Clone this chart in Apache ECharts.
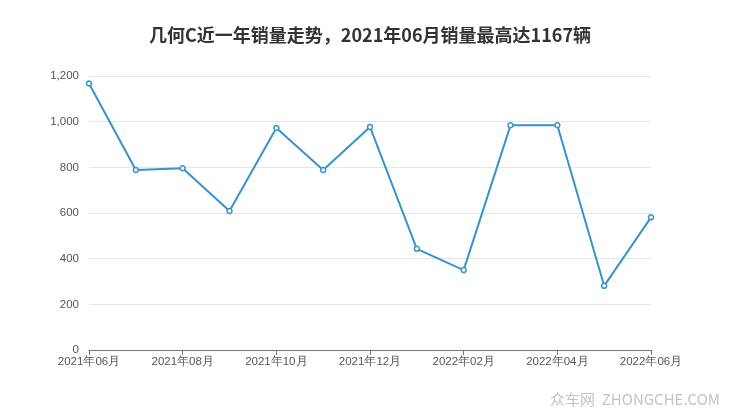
<!DOCTYPE html>
<html><head><meta charset="utf-8">
<script src="https://cdn.jsdelivr.net/npm/echarts@6/dist/echarts.min.js"></script>
<style>html,body{margin:0;padding:0;background:#fff}#c{width:740px;height:417px}</style>
</head><body><div id="c"></div>
<script>
var categories = ['2021年06月','2021年07月','2021年08月','2021年09月','2021年10月','2021年11月','2021年12月','2022年01月','2022年02月','2022年03月','2022年04月','2022年05月','2022年06月'];
var sales = [1167, 788, 796, 609, 972, 788, 977, 443, 350, 984, 984, 281, 581];
var yTicks = {min: 0, max: 1200, interval: 200};
var chart = echarts.init(document.getElementById('c'));
chart.setOption({
  backgroundColor: '#fff',
  title: {text: '几何C近一年销量走势，2021年06月销量最高达1167辆', left: 'center', top: 21,
    textStyle: {fontSize: 18, fontWeight: 'bold', color: '#333', fontFamily: 'Noto Sans CJK SC'}},
  graphic: [{type: 'text', right: 20, bottom: 10, style: {text: '众车网  ZHONGCHE.COM', fill: '#c4c4c4', fontSize: 15, fontFamily: 'Noto Sans CJK SC'}}],
  grid: {left: 89, right: 89, top: 76, bottom: 67},
  xAxis: {type: 'category', data: categories, boundaryGap: false,
    axisLine: {lineStyle: {color: '#777'}}, axisTick: {lineStyle: {color: '#777'}, interval: 1},
    axisLabel: {interval: 1, color: '#555', fontSize: 11.5, margin: 6}},
  yAxis: {type: 'value', min: yTicks.min, max: yTicks.max, interval: yTicks.interval,
    axisLine: {show: false}, axisTick: {show: false},
    axisLabel: {color: '#555', fontSize: 11.5, margin: 10},
    splitLine: {lineStyle: {color: '#e6e6e6'}}},
  series: [{type: 'line', data: sales, symbol: 'circle', symbolSize: 5,
    itemStyle: {color: '#fff', borderColor: '#3893c8', borderWidth: 1.5},
    lineStyle: {color: '#3893c8', width: 2}, clip: true}]
});
</script></body></html>
